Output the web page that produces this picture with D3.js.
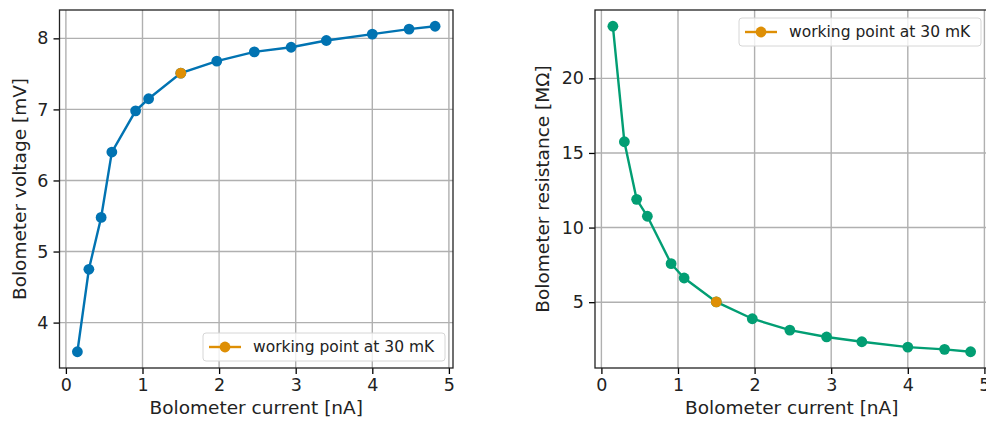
<!DOCTYPE html>
<html>
<head>
<meta charset="utf-8">
<script src="https://cdn.jsdelivr.net/npm/d3@7"></script>
<style>
  html, body { margin: 0; padding: 0; background: #fff; }
  svg { display: block; font-family: "DejaVu Sans", sans-serif; }
</style>
</head>
<body>
<svg id="chart" width="986" height="424"></svg>
<script>
// ---- data ----
const current = [0.15, 0.30, 0.46, 0.60, 0.91, 1.08, 1.50, 1.97, 2.46, 2.94, 3.40, 4.00, 4.48, 4.82];
const voltage = [3.59, 4.75, 5.48, 6.40, 6.98, 7.15, 7.51, 7.68, 7.81, 7.875, 7.97, 8.06, 8.13, 8.17];
const resistance = [23.49, 15.75, 11.89, 10.76, 7.58, 6.62, 5.02, 3.89, 3.13, 2.67, 2.35, 1.99, 1.84, 1.68];
const workingPoint = { current: 1.5, voltage: 7.51, resistance: 5.02 };
const xTicks = [0, 1, 2, 3, 4, 5];
const voltageTicks = [4, 5, 6, 7, 8];
const resistanceTicks = [5, 10, 15, 20];
const legendLabel = "working point at 30 mK";

const svg = d3.select("#chart");

function padded(ext) {
  const d = (ext[1] - ext[0]) * 0.05;
  return [ext[0] - d, ext[1] + d];
}

function panel(opts) {
  const { left, right, top, bottom, ys, yTicks, yLabel, yLabelX, color, wpY, legendPos } = opts;
  const x = d3.scaleLinear().domain(padded(d3.extent(current))).range([left, right]);
  const y = d3.scaleLinear().domain(padded(d3.extent(ys))).range([bottom, top]);
  const g = svg.append("g");

  // grid
  g.append("g").selectAll("line").data(xTicks).join("line")
    .attr("x1", d => x(d)).attr("x2", d => x(d)).attr("y1", top).attr("y2", bottom)
    .attr("stroke", "#b0b0b0").attr("stroke-width", 1.4);
  g.append("g").selectAll("line").data(yTicks).join("line")
    .attr("y1", d => y(d)).attr("y2", d => y(d)).attr("x1", left).attr("x2", right)
    .attr("stroke", "#b0b0b0").attr("stroke-width", 1.4);

  // axes
  const xAxis = g.append("g").attr("transform", `translate(0,${bottom})`)
    .call(d3.axisBottom(x).tickValues(xTicks).tickFormat(d3.format("d")).tickSize(6).tickPadding(5));
  const yAxis = g.append("g").attr("transform", `translate(${left},0)`)
    .call(d3.axisLeft(y).tickValues(yTicks).tickFormat(d3.format("d")).tickSize(6).tickPadding(5));
  [xAxis, yAxis].forEach(a => {
    a.select(".domain").remove();
    a.selectAll("line").attr("stroke", "#000").attr("stroke-width", 1.3);
    a.selectAll("text").attr("font-size", 17.5).attr("fill", "#222").attr("font-family", "DejaVu Sans");
  });

  // spines
  g.append("rect").attr("x", left).attr("y", top).attr("width", right - left).attr("height", bottom - top)
    .attr("fill", "none").attr("stroke", "#222").attr("stroke-width", 1.3);

  // axis labels
  g.append("text").attr("x", (left + right) / 2).attr("y", 414)
    .attr("text-anchor", "middle").attr("font-size", 18.5).attr("fill", "#222")
    .text("Bolometer current [nA]");
  g.append("text").attr("transform", `translate(${yLabelX},${(top + bottom) / 2}) rotate(-90)`)
    .attr("text-anchor", "middle").attr("dominant-baseline", "central").attr("font-size", 18.5).attr("fill", "#222")
    .text(yLabel);

  // line + markers
  const pts = current.map((c, i) => [c, ys[i]]);
  g.append("path").datum(pts)
    .attr("d", d3.line().x(d => x(d[0])).y(d => y(d[1])))
    .attr("fill", "none").attr("stroke", color).attr("stroke-width", 2.4);
  g.append("g").selectAll("circle").data(pts).join("circle")
    .attr("cx", d => x(d[0])).attr("cy", d => y(d[1])).attr("r", 5.4).attr("fill", color);

  // working point
  g.append("circle").attr("cx", x(workingPoint.current)).attr("cy", y(wpY)).attr("r", 5.4).attr("fill", "#de8f05");

  // legend
  const lg = g.append("g").attr("transform", `translate(${legendPos[0]},${legendPos[1]})`);
  lg.append("rect").attr("width", legendPos[2]).attr("height", 28).attr("rx", 3)
    .attr("fill", "#fff").attr("fill-opacity", 0.8).attr("stroke", "#d6d6d6").attr("stroke-width", 1);
  lg.append("line").attr("x1", 6).attr("x2", 38).attr("y1", 14).attr("y2", 14)
    .attr("stroke", "#de8f05").attr("stroke-width", 2.4);
  lg.append("circle").attr("cx", 22).attr("cy", 14).attr("r", 5.4).attr("fill", "#de8f05");
  lg.append("text").attr("x", 50).attr("y", 14).attr("dominant-baseline", "central")
    .attr("font-size", 15.5).attr("fill", "#222").text(legendLabel);
}

panel({ left: 59.5, right: 453, top: 10, bottom: 368, ys: voltage, yTicks: voltageTicks,
  yLabel: "Bolometer voltage [mV]", yLabelX: 19, color: "#0173b2", wpY: workingPoint.voltage,
  legendPos: [203, 333, 242] });
panel({ left: 595, right: 988.5, top: 10, bottom: 368, ys: resistance, yTicks: resistanceTicks,
  yLabel: "Bolometer resistance [MΩ]", yLabelX: 542, color: "#029e73", wpY: workingPoint.resistance,
  legendPos: [739, 18, 242] });
</script>
</body>
</html>
